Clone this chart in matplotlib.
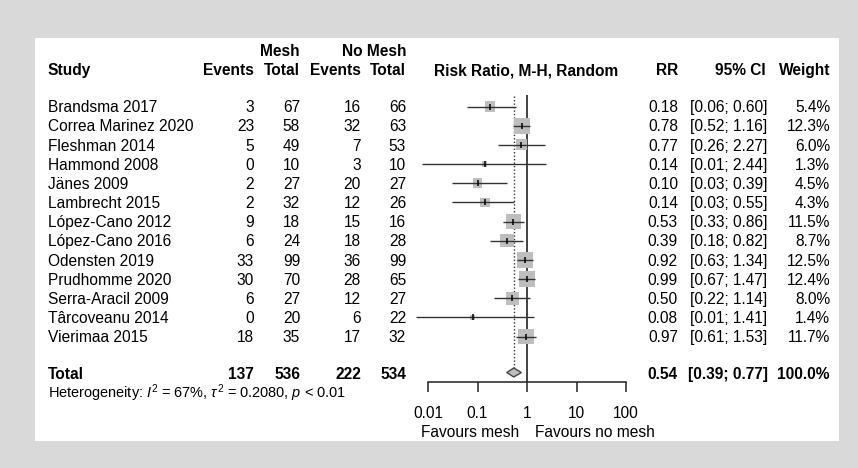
import matplotlib
matplotlib.use("Agg")
import matplotlib.pyplot as plt
import numpy as np
from matplotlib.patches import Rectangle, Polygon

plt.rcParams["font.family"] = ["Liberation Sans", "DejaVu Sans"]
plt.rcParams["mathtext.fontset"] = "custom"
plt.rcParams["mathtext.rm"] = "Liberation Sans"
plt.rcParams["mathtext.it"] = "Liberation Sans:italic"

# data
studies = ["Brandsma 2017", "Correa Marinez 2020", "Fleshman 2014", "Hammond 2008",
           "Jänes 2009", "Lambrecht 2015", "López-Cano 2012", "López-Cano 2016",
           "Odensten 2019", "Prudhomme 2020", "Serra-Aracil 2009", "Târcoveanu 2014",
           "Vierimaa 2015"]
mesh_events = [3, 23, 5, 0, 2, 2, 9, 6, 33, 30, 6, 0, 18]
mesh_total = [67, 58, 49, 10, 27, 32, 18, 24, 99, 70, 27, 20, 35]
nomesh_events = [16, 32, 7, 3, 20, 12, 15, 18, 36, 28, 12, 6, 17]
nomesh_total = [66, 63, 53, 10, 27, 26, 16, 28, 99, 65, 27, 22, 32]
rr = [0.18, 0.78, 0.77, 0.14, 0.10, 0.14, 0.53, 0.39, 0.92, 0.99, 0.50, 0.08, 0.97]
ci_lo = [0.06, 0.52, 0.26, 0.0075, 0.03, 0.03, 0.33, 0.18, 0.63, 0.67, 0.22, 0.0057, 0.61]
ci_hi = [0.60, 1.16, 2.27, 2.44, 0.39, 0.55, 0.86, 0.82, 1.34, 1.47, 1.14, 1.41, 1.53]
weight = [5.4, 12.3, 6.0, 1.3, 4.5, 4.3, 11.5, 8.7, 12.5, 12.4, 8.0, 1.4, 11.7]
total_counts = [137, 536, 222, 534]
pooled = (0.54, 0.39, 0.77)
xticks = [0.01, 0.1, 1, 10, 100]
xticklabels = ["0.01", "0.1", "1", "10", "100"]

W, H = 858, 468
fs = 11.2
fig = plt.figure(figsize=(W / 100, H / 100), dpi=100, facecolor="#D9D9D9")

bg = fig.add_axes([0, 0, 1, 1])
bg.set_xlim(0, W); bg.set_ylim(H, 0); bg.axis("off")
bg.add_patch(Rectangle((35, 38), 804, 403, facecolor="white", edgecolor="none"))

# header
hb = dict(fontsize=fs, fontweight="bold", va="baseline")
bg.text(300, 55.7, "Mesh", ha="right", **hb)
bg.text(406, 55.7, "No Mesh", ha="right", **hb)
bg.text(48, 75, "Study", ha="left", **hb)
for x, s in [(254, "Events"), (300, "Total"), (361, "Events"), (406, "Total"),
             (678, "RR"), (766, "95% CI"), (830, "Weight")]:
    bg.text(x, 75, s, ha="right", **hb)
bg.text(526, 75, "Risk Ratio, M-H, Random", ha="center", **hb)

# study rows
row0, step = 112.3, 19.17
base = [row0 + i * step for i in range(len(studies))]
for i, b in enumerate(base):
    kw = dict(fontsize=fs, va="baseline")
    bg.text(48, b, studies[i], ha="left", **kw)
    bg.text(254, b, str(mesh_events[i]), ha="right", **kw)
    bg.text(300, b, str(mesh_total[i]), ha="right", **kw)
    bg.text(361, b, str(nomesh_events[i]), ha="right", **kw)
    bg.text(406, b, str(nomesh_total[i]), ha="right", **kw)
    bg.text(678, b, f"{rr[i]:.2f}", ha="right", **kw)
    bg.text(767.5, b, f"[{ci_lo[i]:.2f}; {ci_hi[i]:.2f}]", ha="right", **kw)
    bg.text(830, b, f"{weight[i]:.1f}%", ha="right", **kw)

# total row
tb = 379.0
for x, v in zip([254, 300, 361, 406], total_counts):
    bg.text(x, tb, str(v), ha="right", **hb)
bg.text(48, tb, "Total", ha="left", **hb)
bg.text(678, tb, f"{pooled[0]:.2f}", ha="right", **hb)
bg.text(767.5, tb, f"[{pooled[1]:.2f}; {pooled[2]:.2f}]", ha="right", **hb)
bg.text(830, tb, "100.0%", ha="right", **hb)
bg.text(48, 398.3, r"Heterogeneity: $I^2$ = 67%, $\tau^2$ = 0.2080, $p$ < 0.01",
        fontsize=fs * 0.93, va="baseline", ha="left")

bg.text(519, 436.7, "Favours mesh", ha="right", va="baseline", fontsize=fs)
bg.text(535, 436.7, "Favours no mesh", ha="left", va="baseline", fontsize=fs)

# forest panel: x log, y in pixel rows
x0, x1, ytop, ybot = 428, 626, 95, 382
ax = fig.add_axes([x0 / W, 1 - ybot / H, (x1 - x0) / W, (ybot - ytop) / H])
ax.set_xscale("log")
ax.set_xlim(0.01, 100)
ax.set_ylim(ybot, ytop)
ax.patch.set_alpha(0)
for sp in ["top", "left", "right"]:
    ax.spines[sp].set_visible(False)
ax.spines["bottom"].set_linewidth(1.1)
ax.spines["bottom"].set_color("#222222")
ax.set_yticks([])
ax.set_xticks(xticks)
ax.set_xticklabels(xticklabels, fontsize=fs)
ax.minorticks_off()
ax.tick_params(axis="x", length=7, width=1.1, pad=10.2, color="#222222")

centers = [b - 5.8 for b in base]
ax.axvline(1, color="#222222", lw=1.2, zorder=1)
ty = 372.5
dh = 4.5
ax.plot([pooled[0], pooled[0]], [ytop + 1, ty - dh], color="#333333", lw=1.0, ls=(0, (1, 1.5)), zorder=1)

side_pt = [4.6 * np.sqrt(w) * 0.72 for w in weight]
ax.scatter(rr, centers, s=[s ** 2 for s in side_pt], marker="s", color="#BEBEBE",
           edgecolors="none", zorder=2, clip_on=False)
ax.hlines(centers, ci_lo, ci_hi, color="#333333", lw=1.0, zorder=3, clip_on=False)
ax.scatter(rr, centers, s=18, marker="|", color="black", linewidths=1.1, zorder=4, clip_on=False)

ax.add_patch(Polygon([(pooled[1], ty), (pooled[0], ty - dh), (pooled[2], ty), (pooled[0], ty + dh)],
                     closed=True, facecolor="#BEBEBE", edgecolor="#444444", lw=1.0, zorder=3,
                     clip_on=False))

fig.savefig("out.png", dpi=100, facecolor=fig.get_facecolor())
